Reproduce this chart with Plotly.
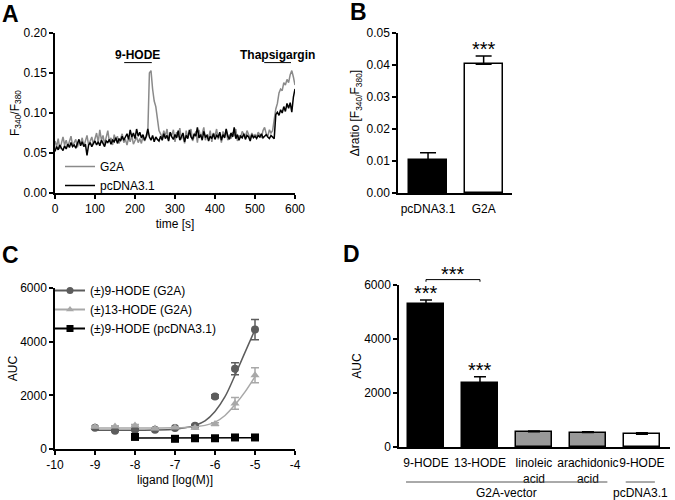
import plotly.graph_objects as go

W, H = 675, 500

# ---------------- Panel A : Ca2+ traces ----------------
time_step_s = 4
g2a_ratio = [
    0.065, 0.058, 0.068, 0.055, 0.062, 0.070, 0.060, 0.066, 0.058, 0.064,
    0.071, 0.059, 0.063, 0.067, 0.057, 0.065, 0.061, 0.069, 0.058, 0.064,
    0.072, 0.060, 0.066, 0.070, 0.061, 0.068,
    0.075, 0.063, 0.079, 0.066, 0.072, 0.061, 0.070, 0.078, 0.064, 0.069,
    0.060, 0.073, 0.066, 0.071, 0.062, 0.068, 0.074, 0.063, 0.067, 0.060,
    0.069, 0.064, 0.072, 0.061, 0.066, 0.070, 0.063, 0.068, 0.062, 0.071,
    0.065, 0.069,
    0.075, 0.150, 0.153, 0.130, 0.115, 0.108, 0.092, 0.078,
    0.074, 0.069, 0.078, 0.071, 0.080, 0.066, 0.075, 0.072, 0.079, 0.064,
    0.076, 0.070, 0.081, 0.067, 0.073, 0.062, 0.078, 0.069, 0.075, 0.080,
    0.065, 0.072, 0.077, 0.063, 0.079, 0.070, 0.074, 0.082, 0.066, 0.073,
    0.069, 0.078, 0.064, 0.075, 0.071, 0.080, 0.067, 0.074, 0.063, 0.077,
    0.070, 0.079, 0.066, 0.073, 0.068, 0.076, 0.071, 0.080, 0.065, 0.072,
    0.069, 0.077, 0.074, 0.070, 0.078, 0.072, 0.068, 0.075, 0.071, 0.073,
    0.070, 0.076, 0.072, 0.069, 0.078, 0.082, 0.074, 0.071, 0.079, 0.075,
    0.078, 0.092, 0.105, 0.112, 0.125, 0.130, 0.128, 0.138, 0.135, 0.142,
    0.138, 0.148, 0.153, 0.145, 0.135,
]
pcdna_ratio = [
    0.052, 0.058, 0.054, 0.060, 0.056, 0.053, 0.059, 0.055, 0.061, 0.057,
    0.063, 0.058, 0.060, 0.056, 0.062, 0.067, 0.059, 0.064, 0.058, 0.061,
    0.047, 0.060, 0.063, 0.058, 0.062, 0.065,
    0.060, 0.064, 0.059, 0.066, 0.062, 0.058, 0.065, 0.063, 0.067, 0.061,
    0.066, 0.064, 0.069, 0.062, 0.068, 0.065, 0.071, 0.066, 0.070, 0.074,
    0.067, 0.079, 0.070, 0.075, 0.068, 0.080, 0.071, 0.076, 0.069, 0.073,
    0.066, 0.071,
    0.080, 0.070, 0.066, 0.072, 0.064, 0.070, 0.067, 0.065,
    0.071, 0.066, 0.074, 0.068, 0.072, 0.065, 0.076, 0.070, 0.067, 0.073,
    0.069, 0.078, 0.066, 0.071, 0.075, 0.064, 0.072, 0.068, 0.079, 0.070,
    0.067, 0.074, 0.071, 0.082, 0.069, 0.073, 0.066, 0.077, 0.070, 0.072,
    0.065, 0.071, 0.068, 0.074, 0.067, 0.072, 0.070, 0.076, 0.066, 0.073,
    0.069, 0.080, 0.071, 0.067, 0.075, 0.070, 0.082, 0.068, 0.073, 0.066,
    0.071, 0.069, 0.074, 0.067, 0.072, 0.070, 0.065, 0.073, 0.069, 0.071,
    0.068, 0.072, 0.070, 0.074, 0.069, 0.071, 0.073, 0.070, 0.068, 0.072,
    0.070, 0.068, 0.098, 0.101, 0.097, 0.104, 0.100, 0.108, 0.102, 0.112,
    0.106, 0.113, 0.101, 0.120, 0.130,
]
time_g2a = [i * time_step_s for i in range(len(g2a_ratio))]
time_pcdna = [i * time_step_s for i in range(len(pcdna_ratio))]
a_xticks = [0, 100, 200, 300, 400, 500, 600]
a_yticks = [0.00, 0.05, 0.10, 0.15, 0.20]

# ---------------- Panel B ----------------
b_groups = ["pcDNA3.1", "G2A"]
b_means = [0.0102, 0.0402]
b_sem = [0.0024, 0.0026]
b_yticks = [0.00, 0.01, 0.02, 0.03, 0.04, 0.05]

# ---------------- Panel C : dose response ----------------
log_conc_g2a = [-9, -8.5, -8, -7.5, -7, -6.5, -6, -5.5, -5]
hode9_g2a = [790, 680, 720, 720, 780, 870, 1960, 2990, 4450]
hode9_g2a_sem = [40, 30, 30, 30, 40, 40, 60, 220, 380]
hode13_g2a = [830, 840, 880, 760, 800, 790, 930, 1700, 2750]
hode13_g2a_sem = [30, 30, 30, 30, 30, 40, 50, 220, 280]
log_conc_pc = [-8, -7, -6.5, -6, -5.5, -5]
hode9_pc = [450, 380, 400, 400, 430, 430]
hode9_pc_sem = [30, 30, 30, 30, 30, 30]
fit_x = [-9, -8, -7.5, -7, -6.75, -6.5, -6.25, -6, -5.75, -5.5, -5.25, -5]
fit_hode9_g2a = [700, 702, 710, 740, 790, 880, 1050, 1400, 1950, 2750, 3600, 4450]
fit_hode13_g2a = [780, 780, 782, 790, 800, 830, 880, 1000, 1250, 1650, 2130, 2700]
fit_pc_x = [-8, -5]
fit_hode9_pc = [408, 416]
c_xticks = [-10, -9, -8, -7, -6, -5, -4]
c_xticklabels = ["-10", "-9", "-8", "-7", "-6", "-5", "-4"]
c_yticks = [0, 2000, 4000, 6000]

# ---------------- Panel D ----------------
d_labels = ["9-HODE", "13-HODE", "linoleic<br>acid", "arachidonic<br>acid", "9-HODE"]
d_means = [5285, 2360, 567, 535, 470]
d_sem = [160, 245, 30, 30, 60]
d_colors = ["#000000", "#000000", "#999999", "#999999", "#ffffff"]
d_yticks = [0, 2000, 4000, 6000]

FONT = "Liberation Sans, Arial, sans-serif"
GRAY_A = "#8a8a8a"
DARK = "#5c5c5c"
LIGHT = "#a8a8a8"

# domains (paper) and ranges
dom = {
    "A": ([55 / W, 295 / W], [1 - 193 / H, 1 - 33 / H], [0, 600], [0, 0.2]),
    "B": ([398 / W, 512 / W], [1 - 193 / H, 1 - 33 / H], [-0.54, 1.51], [0, 0.05]),
    "C": ([55 / W, 295 / W], [1 - 449 / H, 1 - 288 / H], [-10, -4], [0, 6000]),
    "D": ([399 / W, 670 / W], [1 - 447 / H, 1 - 285 / H], [-0.5, 4.52], [0, 6000]),
}


def to_px(panel, xv=None, yv=None):
    xd, yd, xr, yr = dom[panel]
    out = []
    if xv is not None:
        out.append(xd[0] + (xv - xr[0]) / (xr[1] - xr[0]) * (xd[1] - xd[0]))
    if yv is not None:
        out.append(yd[0] + (yv - yr[0]) / (yr[1] - yr[0]) * (yd[1] - yd[0]))
    return out


fig = go.Figure()

# Panel A traces
fig.add_trace(go.Scatter(x=time_g2a, y=g2a_ratio, mode="lines", name="G2A",
                         line=dict(color=GRAY_A, width=1.5), xaxis="x", yaxis="y",
                         legend="legend"))
fig.add_trace(go.Scatter(x=time_pcdna, y=pcdna_ratio, mode="lines", name="pcDNA3.1",
                         line=dict(color="black", width=1.5), xaxis="x", yaxis="y",
                         legend="legend"))

# Panel B
fig.add_trace(go.Bar(x=[0, 1], y=b_means, width=0.68,
                     marker=dict(color=["#000000", "#ffffff"], line=dict(color="black", width=1.5)),
                     error_y=dict(type="data", array=b_sem, arrayminus=[0, 0], symmetric=False,
                                  color="black", thickness=1.5, width=8),
                     xaxis="x2", yaxis="y2", showlegend=False))

# Panel C fits
fig.add_trace(go.Scatter(x=fit_x, y=fit_hode9_g2a, mode="lines", line=dict(color=DARK, width=1.5, shape="spline"),
                         xaxis="x3", yaxis="y3", showlegend=False))
fig.add_trace(go.Scatter(x=fit_x, y=fit_hode13_g2a, mode="lines", line=dict(color=LIGHT, width=1.5, shape="spline"),
                         xaxis="x3", yaxis="y3", showlegend=False))
fig.add_trace(go.Scatter(x=fit_pc_x, y=fit_hode9_pc, mode="lines", line=dict(color="black", width=1.5),
                         xaxis="x3", yaxis="y3", showlegend=False))
# Panel C points
fig.add_trace(go.Scatter(x=log_conc_g2a, y=hode9_g2a, mode="markers",
                         marker=dict(symbol="circle", size=8, color=DARK),
                         error_y=dict(type="data", array=hode9_g2a_sem, color=DARK, thickness=1.5, width=4),
                         xaxis="x3", yaxis="y3", showlegend=False))
fig.add_trace(go.Scatter(x=log_conc_g2a, y=hode13_g2a, mode="markers",
                         marker=dict(symbol="triangle-up", size=8, color=LIGHT),
                         error_y=dict(type="data", array=hode13_g2a_sem, color=LIGHT, thickness=1.5, width=4),
                         xaxis="x3", yaxis="y3", showlegend=False))
fig.add_trace(go.Scatter(x=log_conc_pc, y=hode9_pc, mode="markers",
                         marker=dict(symbol="square", size=8, color="black"),
                         error_y=dict(type="data", array=hode9_pc_sem, color="black", thickness=1.5, width=4),
                         xaxis="x3", yaxis="y3", showlegend=False))
# Panel C legend entries
for nm, col, sym in [("(±)9-HODE (G2A)", DARK, "circle"),
                     ("(±)13-HODE (G2A)", LIGHT, "triangle-up"),
                     ("(±)9-HODE (pcDNA3.1)", "black", "square")]:
    fig.add_trace(go.Scatter(x=[None], y=[None], mode="lines+markers", name=nm,
                             line=dict(color=col, width=2), marker=dict(symbol=sym, size=7, color=col),
                             xaxis="x3", yaxis="y3", legend="legend2"))

# Panel D
fig.add_trace(go.Bar(x=list(range(len(d_means))), y=d_means, width=0.67,
                     marker=dict(color=d_colors, line=dict(color="black", width=1.5)),
                     error_y=dict(type="data", array=d_sem, arrayminus=[0] * len(d_sem), symmetric=False,
                                  color="black", thickness=1.5, width=6),
                     xaxis="x4", yaxis="y4", showlegend=False))

axis_common = dict(showline=True, linecolor="black", linewidth=1.5, ticks="outside", ticklen=4,
                   tickwidth=1.5, tickcolor="black", showgrid=False, zeroline=False,
                   automargin=False, tickfont=dict(size=12, color="black", family=FONT),
                   title_font=dict(size=12, color="black", family=FONT))

layout = dict(
    width=W, height=H, margin=dict(l=0, r=0, t=0, b=0),
    paper_bgcolor="white", plot_bgcolor="white",
    font=dict(family=FONT, size=12, color="black"),
    bargap=0,
    xaxis=dict(axis_common, domain=dom["A"][0], range=dom["A"][2], anchor="y",
               tickvals=a_xticks, title=dict(text="time [s]", standoff=4)),
    yaxis=dict(axis_common, domain=dom["A"][1], range=dom["A"][3], anchor="x",
               tickvals=a_yticks, tickformat=".2f",
               title=dict(text="F<sub>340</sub>/F<sub>380</sub>", standoff=1)),
    xaxis2=dict(axis_common, domain=dom["B"][0], range=dom["B"][2], anchor="y2",
                tickvals=[0, 1], ticktext=b_groups, tickcolor="rgba(0,0,0,0)", tickangle=0),
    yaxis2=dict(axis_common, domain=dom["B"][1], range=dom["B"][3], anchor="x2",
                tickvals=b_yticks, tickformat=".2f",
                title=dict(text="Δratio [F<sub>340/</sub>F<sub>380</sub>]", standoff=4)),
    xaxis3=dict(axis_common, domain=dom["C"][0], range=dom["C"][2], anchor="y3",
                tickvals=c_xticks, ticktext=c_xticklabels, tickangle=0,
                title=dict(text="ligand [log(M)]", standoff=4)),
    yaxis3=dict(axis_common, domain=dom["C"][1], range=dom["C"][3], anchor="x3",
                tickvals=c_yticks, title=dict(text="AUC", standoff=0)),
    xaxis4=dict(axis_common, domain=dom["D"][0], range=dom["D"][2], anchor="y4",
                tickvals=list(range(len(d_labels))), ticktext=d_labels, tickcolor="rgba(0,0,0,0)",
                tickangle=0),
    yaxis4=dict(axis_common, domain=dom["D"][1], range=dom["D"][3], anchor="x4",
                tickvals=d_yticks, title=dict(text="AUC", standoff=0)),
    legend=dict(x=60 / W, y=1 - 152 / H, xanchor="left", yanchor="top", bgcolor="rgba(0,0,0,0)",
                font=dict(size=12, family=FONT), tracegroupgap=0),
    legend2=dict(x=50 / W, y=1 - 276 / H, xanchor="left", yanchor="top", bgcolor="rgba(0,0,0,0)",
                 font=dict(size=12, family=FONT), tracegroupgap=0),
)
fig.update_layout(**layout)

ann = []
shapes = []
# panel letters
for letter, (px, py) in {"A": (11, 14), "B": (358, 12), "C": (11, 255), "D": (351, 254)}.items():
    ann.append(dict(text=f"<b>{letter}</b>", x=px / W, y=1 - py / H, xref="paper", yref="paper",
                    xanchor="center", yanchor="middle",
                    showarrow=False, font=dict(size=23, family=FONT, color="black")))

# Panel A stimulus markers
for label, t0, t1, tc in [("9-HODE", 173, 242, 205), ("Thapsigargin", 523, 590, 555)]:
    ann.append(dict(text=f"<b>{label}</b>", x=tc, y=0.163, xref="x", yref="y",
                    xanchor="center", yanchor="bottom", yshift=-1,
                    showarrow=False, font=dict(size=12, family=FONT, color="black")))
    shapes.append(dict(type="line", x0=t0, x1=t1, y0=0.163, y1=0.163, xref="x", yref="y",
                       line=dict(color="black", width=1)))

# Panel B significance
ann.append(dict(text="***", x=1, y=b_means[1] + b_sem[1], xref="x2", yref="y2",
                xanchor="center", yanchor="bottom", yshift=-6,
                showarrow=False, font=dict(size=20, family=FONT, color="black")))

# Panel D significance
for i in (0, 1):
    ann.append(dict(text="***", x=i, y=d_means[i] + d_sem[i], xref="x4", yref="y4",
                    xanchor="center", yanchor="bottom", yshift=-6,
                    showarrow=False, font=dict(size=20, family=FONT, color="black")))
bx0 = to_px("D", xv=0)[0]
bx1 = to_px("D", xv=1)[0]
by = to_px("D", yv=6200)[0]
byt = to_px("D", yv=6120)[0]
shapes.append(dict(type="path", xref="paper", yref="paper",
                   path=f"M{bx0},{byt} L{bx0},{by} L{bx1},{by} L{bx1},{byt}",
                   line=dict(color="black", width=1)))
ann.append(dict(text="***", x=(bx0 + bx1) / 2, y=by, xref="paper", yref="paper",
                xanchor="center", yanchor="bottom", yshift=-7,
                showarrow=False, font=dict(size=20, family=FONT, color="black")))

# Panel D group lines
grp_y = 1 - 482 / H
for label, xa, xb in [("G2A-vector", -0.37, 3.36), ("pcDNA3.1", 3.7, 4.24)]:
    pa = to_px("D", xv=xa)[0]
    pb = to_px("D", xv=xb)[0]
    shapes.append(dict(type="line", xref="paper", yref="paper", x0=pa, x1=pb, y0=grp_y, y1=grp_y,
                       line=dict(color="#555555", width=1)))
    ann.append(dict(text=label, x=(pa + pb) / 2, y=1 - 493 / H, xref="paper", yref="paper",
                    xanchor="center", yanchor="middle",
                    showarrow=False, font=dict(size=12, family=FONT, color="black")))

fig.update_layout(annotations=ann, shapes=shapes)
fig.write_html("out.html", config={"displayModeBar": False},
               post_script="document.body.style.margin='0';")
